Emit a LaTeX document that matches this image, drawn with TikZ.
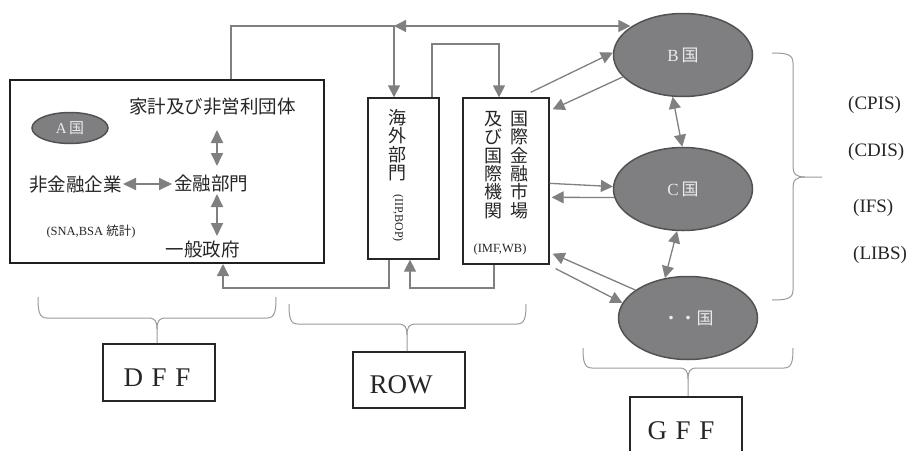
\documentclass[tikz,border=0pt]{standalone}
\usepackage{fontspec}
\setmainfont{Liberation Serif}
\newfontfamily\jp{Noto Sans CJK JP}
\usetikzlibrary{shapes.geometric,arrows.meta}
\definecolor{ellfill}{HTML}{7F7F82}
\definecolor{ellbord}{HTML}{525252}
\definecolor{arrcol}{HTML}{808080}
\definecolor{brccol}{HTML}{9A9A9A}
\definecolor{txtcol}{HTML}{262626}
\begin{document}
\begin{tikzpicture}[x=1pt,y=-1pt,
  country/.style={ellipse, fill=ellfill, draw=ellbord, line width=1.5pt, text=white!92!black,
    minimum width=139pt, minimum height=83pt, inner sep=0pt, font=\fontsize{17}{17}\selectfont},
  jtext/.style={text=txtcol, inner sep=0pt, font=\jp\fontsize{18.5}{18.5}\selectfont},
  conn/.style={draw=arrcol, line width=1.3pt},
  arrA/.style={-{Triangle[length=12pt,width=12pt]}},
  arrD/.style={{Triangle[length=12pt,width=12pt]}-{Triangle[length=12pt,width=12pt]}},
  inarr/.style={draw=arrcol, line width=1.8pt, {Triangle[length=13pt,width=12pt]}-{Triangle[length=13pt,width=12pt]}},
  bracepath/.style={draw=brccol, line width=1pt},
  labbox/.style={draw=txtcol, line width=1.6pt, inner sep=0pt},
  lattext/.style={text=txtcol, inner sep=0pt, font=\fontsize{19}{19}\selectfont},
  bigtext/.style={text=txtcol, inner sep=0pt, font=\fontsize{27}{27}\selectfont},
]
\useasboundingbox (0,0) rectangle (912,450);
\clip (0,0) rectangle (912,450);
\fill[white] (0,0) rectangle (912,450);

% ---- domestic box
\node[draw=black!88, line width=2pt, minimum width=314pt, minimum height=183pt, inner sep=0pt] (dom) at (167,171.5) {};
\node[country, minimum width=76pt, minimum height=31pt, font=\fontsize{15}{15}\selectfont] (A) at (70,128) {A\,{\jp 国}};
\node[jtext] (hh) at (212.5,107) {家計及び非営利団体};
\node[jtext] (fin) at (211,183) {金融部門};
\node[jtext] (nfc) at (75.5,185) {非金融企業};
\node[jtext] (gov) at (202.5,249) {一般政府};
\node[text=txtcol, inner sep=0pt, font=\fontsize{12.5}{12.5}\selectfont] (sna) at (91,232) {(SNA,BSA {\jp 統計})};

\coordinate (vx) at (217,0);
\coordinate (hy) at (0,184);
\draw[inarr, shorten <=23pt, shorten >=17pt] (hh.center -| vx) -- (fin.center -| vx);
\draw[inarr, shorten <=11pt, shorten >=13pt] (fin.center -| vx) -- (gov.center -| vx);
\draw[inarr, shorten <=47.5pt, shorten >=39pt] (nfc.center |- hy) -- (fin.center |- hy);

% ---- overseas boxes
\node[draw=txtcol, line width=1.3pt, minimum width=71pt, minimum height=161pt, inner sep=0pt] (ob) at (403.5,178.5) {};
\node[draw=txtcol, line width=1.3pt, minimum width=86pt, minimum height=166pt, inner sep=0pt] (ib) at (506,181) {};
\node[jtext, font=\jp\fontsize{18}{18.4}\selectfont, align=center] (obt) at (397,145) {海\\外\\部\\門};
\node[text=txtcol, inner sep=0pt, rotate=-90, font=\fontsize{12}{12}\selectfont] (iip) at (398,218) {(IIP,BOP)};
\node[jtext, font=\jp\fontsize{18}{18.3}\selectfont, align=center] (ibr) at (519,165) {国\\際\\金\\融\\市\\場};
\node[jtext, font=\jp\fontsize{18}{18.3}\selectfont, align=center] (ibl) at (493,165) {及\\び\\国\\際\\機\\関};
\node[text=txtcol, inner sep=0pt, font=\fontsize{12.5}{12.5}\selectfont] (imf) at (500,249) {(IMF,WB)};

% ---- countries
\node[country] (B) at (683,55) {B\,{\jp 国}};
\node[country] (C) at (683,189) {C\,{\jp 国}};
\node[country] (D) at (688,318) {{\jp ・・国}};

% ---- labels on the right
\node[lattext, anchor=west] (cpis) at (848,105) {(CPIS)};
\node[lattext, anchor=west] (cdis) at (848,152) {(CDIS)};
\node[lattext, anchor=west] (ifs) at (853,208) {(IFS)};
\node[lattext, anchor=west] (libs) at (853,255) {(LIBS)};

% ---- bottom label boxes
\node[labbox, minimum width=112pt, minimum height=57pt] (dff) at (159,372.5) {};
\node[bigtext] (dfft) at (157,378) {D\hspace{0.32em}F\hspace{0.32em}F};
\node[labbox, minimum width=112pt, minimum height=56pt] (row) at (409,380) {};
\node[bigtext] (rowt) at (401,385) {ROW};
\node[labbox, minimum width=112pt, minimum height=80pt] (gff) at (686,437) {};
\node[bigtext] (gfft) at (681,431) {G\hspace{0.32em}F\hspace{0.32em}F};

% ---- connectors
\coordinate (ax) at (231,0);
\coordinate (jn) at (394,26);
\draw[conn, arrA] (dom.north -| ax) |- (jn) -- (ob.north -| jn);
\draw[conn, arrD] (jn) -- (jn -| B.152);

\coordinate (lx1) at (432,44);
\coordinate (lx2) at (499,44);
\draw[conn, arrA] (ob.north -| lx1) -- (lx1) -- (lx2) -- (ib.north -| lx2);

\draw[conn, arrA] ([xshift=-19pt,yshift=5pt]ib.north east) -- (B.178);
\draw[conn, arrA] (B.200) -- ([xshift=3pt,yshift=-12pt]ib.north east);
\draw[conn, arrA] ([yshift=-86pt]ib.north east) -- (C.178);
\draw[conn, arrA] (C.187) -- ([xshift=2pt,yshift=-100pt]ib.north east);
\draw[conn, arrA] (D.152) -- ([xshift=3pt,yshift=11pt]ib.south east);
\draw[conn, arrA] ([xshift=6pt,yshift=-4pt]ib.south east) -- (D.167);
\draw[conn, arrD] (B.256) -- (C.91);
\draw[conn, arrD] (C.262) -- (D.120);

\coordinate (by) at (0,288);
\coordinate (bx1) at (389,0);
\coordinate (bx2) at (223,0);
\coordinate (bx3) at (494,0);
\coordinate (bx4) at (410,0);
\draw[conn, arrA] (ob.south -| bx1) -- (bx1 |- by) -- (bx2 |- by) -- (dom.south -| bx2);
\draw[conn, arrA] (ib.south -| bx3) -- (bx3 |- by) -- (bx4 |- by) -- (ob.south -| bx4);

% ---- braces
% DFF
\coordinate (dffc) at (157,329);
\draw[bracepath] (38,297) .. controls (38,311) and (39,318) .. (47,318) -- (148,318) .. controls (155,318) and (157,321) .. (dffc) -- (dffc |- dff.north);
\draw[bracepath] (276,297) .. controls (276,311) and (275,318) .. (267,318) -- (166,318) .. controls (159,318) and (157,321) .. (dffc);
% ROW
\coordinate (rowc) at (407,335);
\draw[bracepath] (289,304) .. controls (289,317) and (290,324) .. (298,324) -- (398,324) .. controls (405,324) and (407,327) .. (rowc) -- (rowc |- row.north);
\draw[bracepath] (526,304) .. controls (526,317) and (525,324) .. (517,324) -- (416,324) .. controls (409,324) and (407,327) .. (rowc);
% GFF
\coordinate (gffc) at (688,379);
\draw[bracepath] (583,348) .. controls (583,361) and (584,368) .. (592,368) -- (679,368) .. controls (686,368) and (688,371) .. (gffc) -- (gffc |- gff.north);
\draw[bracepath] (793,348) .. controls (793,361) and (792,368) .. (784,368) -- (697,368) .. controls (690,368) and (688,371) .. (gffc);
% right brace
\coordinate (rbc) at (805,177);
\coordinate (rbt) at (822,177);
\draw[bracepath] (772,53) .. controls (786,53) and (793,54) .. (793,63) -- (793,167) .. controls (793,174) and (796,177) .. (rbc) -- (rbt);
\draw[bracepath] (772,300) .. controls (786,300) and (793,299) .. (793,290) -- (793,187) .. controls (793,180) and (796,177) .. (rbc);
\end{tikzpicture}
\end{document}
